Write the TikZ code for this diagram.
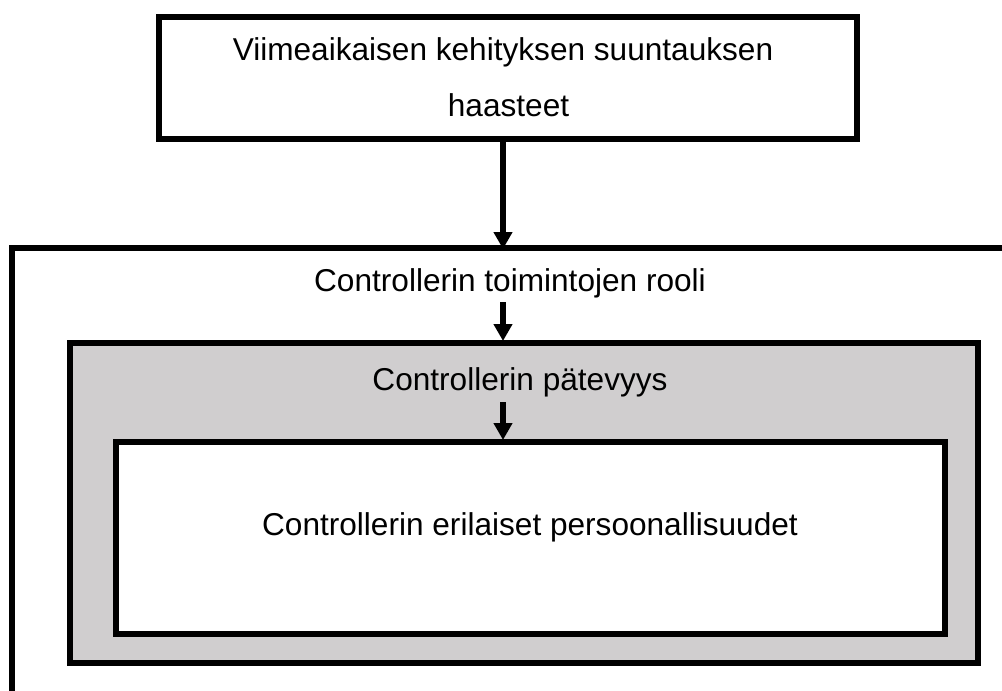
\documentclass[tikz,border=0pt]{standalone}
\usepackage{fontspec}
\setmainfont{Liberation Sans}
\usetikzlibrary{arrows.meta}
\definecolor{boxgray}{RGB}{208,206,207}
\tikzset{
  frame/.style={draw=black, line width=6pt, inner sep=0pt},
  label/.style={font=\fontsize{31.6}{57}\selectfont, inner sep=0pt, align=center},
  arr/.style={line width=6pt, -{Triangle[length=17pt,width=18pt]}, shorten >=-1pt},
}
\begin{document}
\begin{tikzpicture}[x=1pt,y=-1pt]
\useasboundingbox (0,0) rectangle (1002,691);
\clip (0,0) rectangle (1002,691);
% top box
\node[frame, minimum width=698pt, minimum height=122pt] (top) at (508,78) {};
\node[label, anchor=base] (toptext1) at (503,60) {Viimeaikaisen kehityksen suuntauksen};
\node[label, anchor=base] (toptext2) at (508.5,116) {haasteet};
% outer open box
\coordinate (outerBL) at (12,720);
\coordinate (outerTL) at (12,248);
\coordinate (outerTR) at (1030,248);
\draw[line width=6pt] (outerBL) -- (outerTL) -- (outerTR);
\node[label] (rooli) at (510,283) {Controllerin toimintojen rooli};
% gray box
\node[frame, fill=boxgray, minimum width=908pt, minimum height=320pt] (gray) at (524,503) {};
\node[label] (patevyys) at (520,382) {Controllerin pätevyys};
% inner box
\node[frame, fill=white, minimum width=829pt, minimum height=192pt] (inner) at (530.5,538) {};
\node[label] (pers) at (530,527) {Controllerin erilaiset persoonallisuudet};
% arrows
\coordinate (a1end) at (503,248);
\draw[arr] (top.south -| a1end) -- (a1end);
\coordinate (a2start) at (503,302);
\draw[arr] (a2start) -- (gray.north -| a2start);
\coordinate (a3start) at (503,402);
\draw[arr] (a3start) -- (inner.north -| a3start);
\end{tikzpicture}
\end{document}
